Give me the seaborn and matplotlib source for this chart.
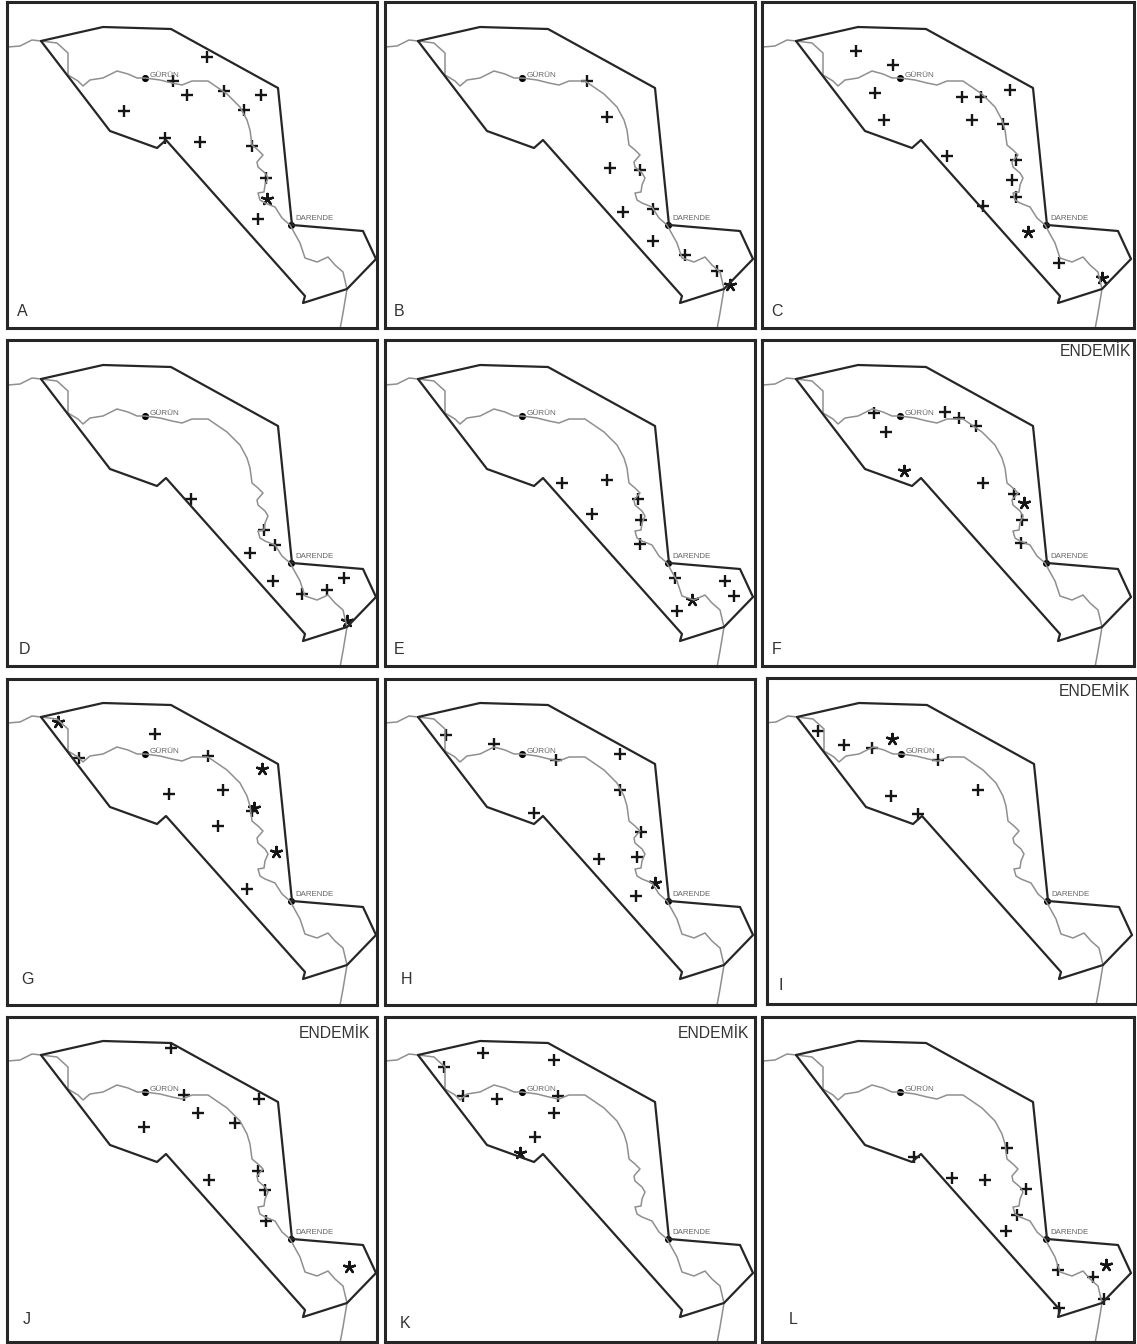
import matplotlib
matplotlib.use("Agg")
import seaborn as sns
import matplotlib.pyplot as plt

# map coordinates are the pixel positions of panel A
border_x = [41, 103, 171, 278, 292, 363, 376, 347, 303, 305, 166, 157, 110, 41]
border_y = [41, 27, 29, 88, 225, 231, 259, 289, 303, 296, 140, 148, 131, 41]

river_x = [0, 8, 20, 32, 41, 57, 68, 68, 78, 83, 90, 103, 117, 128, 137, 145, 160, 172, 182, 192, 208, 227, 240, 247,
           250, 252, 258, 263, 257, 258, 265, 268, 265, 264, 258, 260, 265, 275, 282, 290, 300, 305, 317, 328, 335,
           343, 347, 343, 338]
river_y = [47, 47, 46, 40, 41, 43, 53, 75, 81, 86, 80, 78, 71, 74, 78, 78, 80, 83, 85, 81, 81, 94, 107, 120,
           130, 145, 150, 155, 162, 167, 173, 178, 185, 192, 193, 200, 203, 207, 218, 225, 243, 258, 262, 257, 265,
           272, 289, 313, 340]

city_names = ["GÜRÜN", "DARENDE"]
city_x = [145, 291]
city_y = [78, 225]

panel_names = ["A", "B", "C", "D", "E", "F", "G", "H", "I", "J", "K", "L"]

plus = {
    "A": [(207, 57), (173, 81), (187, 95), (224, 91), (261, 95), (244, 110), (124, 111), (165, 138), (200, 142),
          (252, 146), (266, 178), (258, 219)],
    "B": [(210, 81), (230, 117), (233, 168), (263, 170), (276, 209), (246, 212), (276, 241), (308, 255), (340, 271)],
    "C": [(101, 51), (138, 65), (120, 93), (129, 120), (207, 97), (226, 97), (255, 90), (217, 120), (248, 124),
          (192, 156), (261, 160), (257, 180), (261, 197), (228, 206), (304, 263)],
    "D": [(191, 161), (264, 192), (275, 207), (250, 215), (273, 243), (302, 256), (327, 252), (344, 240)],
    "E": [(185, 145), (230, 142), (215, 176), (261, 161), (264, 182), (263, 206), (298, 240), (348, 243), (357, 258),
          (300, 273)],
    "F": [(119, 75), (131, 94), (190, 74), (204, 80), (221, 88), (228, 145), (259, 156), (267, 182), (266, 205)],
    "G": [(155, 58), (79, 82), (208, 80), (223, 114), (169, 118), (252, 135), (218, 150), (247, 213)],
    "H": [(69, 59), (117, 68), (179, 84), (243, 78), (243, 114), (157, 137), (264, 156), (260, 181), (222, 183),
          (259, 220)],
    "I": [(62, 55), (88, 69), (116, 72), (182, 84), (222, 114), (135, 120), (162, 138)],
    "J": [(171, 34), (184, 81), (259, 85), (198, 99), (235, 109), (144, 113), (258, 157), (209, 166), (265, 176),
          (266, 207)],
    "K": [(106, 39), (177, 46), (67, 53), (86, 82), (120, 85), (181, 82), (177, 99), (158, 123)],
    "L": [(159, 143), (252, 134), (197, 164), (230, 166), (271, 175), (262, 201), (251, 217), (303, 256), (338, 263),
          (349, 285), (304, 294)],
}
star = {
    "A": [(267, 199)],
    "B": [(353, 285)],
    "C": [(273, 232), (347, 278)],
    "D": [(347, 283)],
    "E": [(315, 262)],
    "F": [(149, 133), (269, 165)],
    "G": [(58, 46), (262, 93), (254, 132), (276, 176)],
    "H": [(278, 207)],
    "I": [(136, 63)],
    "J": [(349, 253)],
    "K": [(143, 139)],
    "L": [(351, 251)],
}

# panel frames in figure pixels: left, right, top, bottom, map shift x, map shift y
frames = {
    "A": (7, 377, 2, 328, 0, 0), "B": (385, 755, 2, 328, 377, 0), "C": (762, 1134, 2, 328, 755, 0),
    "D": (7, 377, 340, 666, 0, 338), "E": (385, 755, 340, 666, 377, 338), "F": (762, 1134, 340, 666, 755, 338),
    "G": (7, 377, 679, 1005, 0, 676), "H": (385, 755, 679, 1005, 377, 676), "I": (767, 1137, 678, 1004, 756, 676),
    "J": (7, 377, 1017, 1342, 0, 1014), "K": (385, 755, 1017, 1342, 377, 1014), "L": (762, 1134, 1017, 1342, 755, 1014),
}
# text positions, figure pixels
letter_pos = {
    "A": (22, 312), "B": (399, 312), "C": (777, 312), "D": (24, 649), "E": (399, 649), "F": (777, 649),
    "G": (28, 979), "H": (406, 979), "I": (781, 985), "J": (27, 1320), "K": (405, 1323), "L": (793, 1319),
}
endemic_pos = {"F": (1131, 352), "I": (1130, 692), "J": (370, 1033), "K": (749, 1033)}

W, H = 1137, 1344
sns.set_style("white")
plt.rcParams["font.family"] = ["Liberation Sans", "DejaVu Sans"]
fig = plt.figure(figsize=(W / 100, H / 100), dpi=100)

for name in panel_names:
    x0, x1, y0, y1, dx, dy = frames[name]
    ax = fig.add_axes([x0 / W, 1 - y1 / H, (x1 - x0) / W, (y1 - y0) / H])
    sns.lineplot(x=river_x, y=river_y, sort=False, estimator=None, color="#8f8f8f", lw=1.1, ax=ax)
    sns.lineplot(x=border_x, y=border_y, sort=False, estimator=None, color="#262626", lw=1.6, ax=ax)
    sns.scatterplot(x=city_x, y=city_y, color="black", s=26, linewidth=0, ax=ax)
    sns.scatterplot(x=[p[0] for p in plus[name]], y=[p[1] for p in plus[name]], marker="+", s=75,
                    color="#151515", linewidth=1.7, ax=ax)
    # asterisk with five arms
    sns.scatterplot(x=[p[0] for p in star[name]], y=[p[1] for p in star[name]], marker=(5, 2, 0), s=65,
                    color="#151515", linewidth=1.7, ax=ax)
    ax.text(city_x[0] + 5, city_y[0] - 2.5, city_names[0], fontsize=5.9, color="#666666", va="center", ha="left")
    ax.text(city_x[1] + 4, city_y[1] - 7, city_names[1], fontsize=5.7, color="#666666", va="center", ha="left")
    ax.set_xlim(x0 - dx, x1 - dx)
    ax.set_ylim(y1 - dy, y0 - dy)
    ax.set_xticks([])
    ax.set_yticks([])
    ax.set_xlabel("")
    ax.set_ylabel("")
    for s in ax.spines.values():
        s.set_visible(True)
        s.set_linewidth(2.2)
        s.set_color("#262626")
    lx, ly = letter_pos[name]
    fig.text(lx / W, 1 - ly / H, name, fontsize=11.5, color="#333333", ha="center", va="center")
    if name in endemic_pos:
        ex, ey = endemic_pos[name]
        fig.text(ex / W, 1 - ey / H, "ENDEMİK", fontsize=11.3, color="#333333", ha="right", va="center")

fig.savefig("out.png", dpi=100, facecolor="white")
